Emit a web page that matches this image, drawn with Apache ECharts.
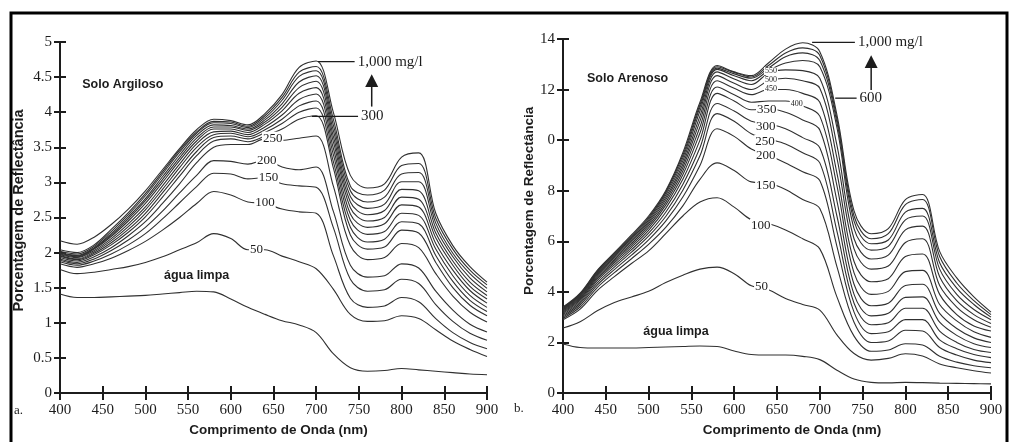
<!DOCTYPE html>
<html>
<head>
<meta charset="utf-8">
<script src="https://cdn.jsdelivr.net/npm/echarts@6/dist/echarts.min.js"></script>
<style>
  html, body { margin: 0; padding: 0; background: #ffffff; }
  #chart { width: 1017px; height: 442px; }
</style>
</head>
<body>
<div id="chart"></div>
<script>
// Wavelength samples (nm) shared by every spectrum
const wavelengths = [400, 420, 440, 460, 480, 500, 520, 540, 560, 580, 600, 620, 640, 660, 680, 700, 720, 740, 760, 780, 800, 820, 840, 860, 880, 900];

// Tick labels
const argilosoTickLabels = ['0', '0.5', '1', '1.5', '2', '2.5', '3', '3.5', '4', '4.5', '5'];
const arenosoTickLabels = ['0', '2', '4', '6', '8', '0', '12', '14'];
const waveTickLabels = ['400', '450', '500', '550', '600', '650', '700', '750', '800', '850', '900'];

// a. Solo Argiloso — reflectance (%) by sediment concentration (mg/l)
const argAgua = [1.41, 1.36, 1.36, 1.37, 1.38, 1.39, 1.41, 1.43, 1.45, 1.44, 1.34, 1.22, 1.12, 1.03, 0.97, 0.86, 0.56, 0.36, 0.31, 0.32, 0.35, 0.33, 0.31, 0.29, 0.27, 0.26];
const arg50 = [1.76, 1.70, 1.72, 1.76, 1.80, 1.86, 1.94, 2.04, 2.14, 2.27, 2.20, 2.04, 2.04, 1.95, 1.87, 1.77, 1.48, 1.12, 1.02, 1.03, 1.10, 1.06, 0.90, 0.74, 0.62, 0.52];
const arg100 = [1.84, 1.79, 1.84, 1.92, 2.03, 2.16, 2.32, 2.50, 2.70, 2.87, 2.82, 2.72, 2.70, 2.62, 2.58, 2.56, 1.96, 1.35, 1.22, 1.24, 1.36, 1.30, 1.06, 0.86, 0.72, 0.63];
const arg150 = [1.87, 1.82, 1.88, 1.98, 2.11, 2.27, 2.48, 2.71, 2.94, 3.13, 3.12, 3.05, 3.07, 2.98, 2.95, 2.93, 2.36, 1.62, 1.45, 1.47, 1.62, 1.56, 1.26, 1.02, 0.85, 0.75];
const arg200 = [1.89, 1.84, 1.91, 2.03, 2.18, 2.36, 2.59, 2.85, 3.10, 3.31, 3.30, 3.26, 3.32, 3.22, 3.18, 3.22, 2.59, 1.82, 1.65, 1.67, 1.84, 1.78, 1.45, 1.18, 0.98, 0.87];
const arg250 = [1.91, 1.86, 1.94, 2.07, 2.24, 2.44, 2.70, 2.98, 3.28, 3.50, 3.54, 3.54, 3.62, 3.60, 3.63, 3.66, 2.95, 2.10, 1.90, 1.93, 2.13, 2.07, 1.70, 1.38, 1.15, 1.01];
const arg300 = [1.93, 1.88, 1.97, 2.11, 2.29, 2.51, 2.79, 3.09, 3.38, 3.59, 3.62, 3.58, 3.66, 3.76, 3.90, 3.95, 3.21, 2.25, 2.05, 2.08, 2.32, 2.28, 1.86, 1.50, 1.25, 1.10];
const arg350 = [1.95, 1.90, 1.99, 2.14, 2.33, 2.56, 2.85, 3.15, 3.44, 3.64, 3.66, 3.62, 3.71, 3.84, 4.00, 4.06, 3.30, 2.36, 2.15, 2.19, 2.44, 2.41, 1.96, 1.59, 1.32, 1.16];
const arg400 = [1.96, 1.91, 2.01, 2.17, 2.37, 2.61, 2.90, 3.21, 3.50, 3.68, 3.70, 3.65, 3.75, 3.90, 4.09, 4.16, 3.40, 2.46, 2.26, 2.30, 2.56, 2.53, 2.05, 1.67, 1.39, 1.22];
const arg450 = [1.97, 1.93, 2.03, 2.20, 2.41, 2.65, 2.95, 3.26, 3.55, 3.72, 3.73, 3.68, 3.79, 3.96, 4.18, 4.26, 3.49, 2.55, 2.36, 2.41, 2.68, 2.65, 2.13, 1.75, 1.46, 1.28];
const arg500 = [1.98, 1.94, 2.05, 2.23, 2.45, 2.70, 3.00, 3.31, 3.59, 3.76, 3.76, 3.71, 3.83, 4.02, 4.27, 4.35, 3.58, 2.64, 2.45, 2.50, 2.79, 2.76, 2.21, 1.82, 1.52, 1.34];
const arg550 = [1.99, 1.95, 2.06, 2.25, 2.48, 2.74, 3.04, 3.35, 3.63, 3.79, 3.79, 3.74, 3.86, 4.07, 4.35, 4.44, 3.66, 2.72, 2.54, 2.60, 2.90, 2.88, 2.28, 1.88, 1.58, 1.39];
const arg600 = [2.00, 1.96, 2.07, 2.27, 2.51, 2.77, 3.08, 3.39, 3.67, 3.82, 3.81, 3.76, 3.89, 4.12, 4.43, 4.52, 3.74, 2.80, 2.63, 2.69, 3.01, 3.01, 2.35, 1.94, 1.64, 1.44];
const arg700 = [2.02, 1.98, 2.09, 2.30, 2.54, 2.81, 3.12, 3.43, 3.70, 3.85, 3.84, 3.78, 3.92, 4.17, 4.51, 4.59, 3.82, 2.88, 2.72, 2.79, 3.12, 3.14, 2.42, 1.99, 1.70, 1.49];
const arg800 = [2.04, 2.00, 2.11, 2.33, 2.57, 2.84, 3.15, 3.46, 3.72, 3.87, 3.86, 3.80, 3.95, 4.21, 4.57, 4.65, 3.90, 2.95, 2.82, 2.89, 3.24, 3.27, 2.49, 2.05, 1.75, 1.54];
const arg1000 = [2.17, 2.12, 2.22, 2.40, 2.62, 2.88, 3.18, 3.48, 3.75, 3.90, 3.88, 3.82, 3.98, 4.25, 4.64, 4.73, 4.00, 3.10, 2.92, 2.98, 3.36, 3.42, 2.56, 2.10, 1.80, 1.58];

// b. Solo Arenoso — reflectance (%) by sediment concentration (mg/l)
const areAgua = [1.94, 1.80, 1.78, 1.78, 1.78, 1.80, 1.82, 1.84, 1.86, 1.84, 1.66, 1.52, 1.50, 1.50, 1.45, 1.32, 0.90, 0.55, 0.42, 0.40, 0.42, 0.41, 0.39, 0.38, 0.37, 0.36];
const are50 = [2.57, 2.82, 3.25, 3.58, 3.80, 4.02, 4.37, 4.66, 4.90, 4.98, 4.72, 4.24, 4.08, 3.74, 3.50, 3.28, 2.30, 1.56, 1.30, 1.37, 1.55, 1.46, 1.15, 1.00, 0.88, 0.79];
const are100 = [2.90, 3.32, 4.05, 4.60, 5.12, 5.62, 6.30, 7.00, 7.55, 7.72, 7.35, 6.85, 6.70, 6.45, 6.10, 5.70, 3.80, 2.25, 1.65, 1.70, 1.95, 1.90, 1.45, 1.22, 1.08, 1.00];
const are150 = [2.95, 3.40, 4.17, 4.76, 5.31, 5.88, 6.55, 7.40, 8.45, 9.10, 8.80, 8.35, 8.30, 8.05, 7.65, 7.30, 5.00, 2.80, 2.00, 2.06, 2.48, 2.45, 1.80, 1.50, 1.30, 1.20];
const are200 = [3.00, 3.48, 4.27, 4.88, 5.45, 6.06, 6.80, 7.75, 9.00, 10.45, 10.15, 9.65, 9.40, 9.10, 8.75, 8.40, 5.80, 3.20, 2.35, 2.42, 2.90, 2.90, 2.10, 1.75, 1.52, 1.40];
const are250 = [3.05, 3.55, 4.36, 4.98, 5.57, 6.20, 6.98, 8.02, 9.38, 11.05, 10.75, 10.25, 10.05, 9.85, 9.50, 9.10, 6.40, 3.55, 2.70, 2.78, 3.35, 3.35, 2.45, 2.00, 1.72, 1.60];
const are300 = [3.10, 3.61, 4.44, 5.07, 5.67, 6.32, 7.15, 8.25, 9.70, 11.45, 11.15, 10.75, 10.65, 10.45, 10.10, 9.70, 7.00, 3.90, 3.05, 3.15, 3.78, 3.80, 2.80, 2.28, 1.95, 1.80];
const are350 = [3.15, 3.67, 4.51, 5.15, 5.76, 6.43, 7.30, 8.45, 10.00, 11.85, 11.55, 11.20, 11.25, 11.10, 10.80, 10.40, 7.60, 4.30, 3.45, 3.55, 4.25, 4.30, 3.15, 2.55, 2.18, 2.00];
const are400 = [3.19, 3.72, 4.57, 5.22, 5.84, 6.53, 7.43, 8.63, 10.28, 12.10, 11.80, 11.50, 11.55, 11.55, 11.35, 10.95, 8.20, 4.75, 3.90, 4.02, 4.80, 4.85, 3.50, 2.85, 2.42, 2.20];
const are450 = [3.23, 3.76, 4.62, 5.28, 5.91, 6.62, 7.54, 8.78, 10.52, 12.35, 12.05, 11.80, 12.00, 12.00, 11.85, 11.50, 8.70, 5.20, 4.40, 4.52, 5.40, 5.50, 3.90, 3.10, 2.65, 2.45];
const are500 = [3.27, 3.80, 4.67, 5.34, 5.98, 6.70, 7.64, 8.92, 10.75, 12.55, 12.25, 12.00, 12.35, 12.45, 12.35, 12.05, 9.30, 5.70, 4.90, 5.02, 5.95, 6.10, 4.25, 3.40, 2.90, 2.60];
const are550 = [3.30, 3.84, 4.71, 5.39, 6.04, 6.77, 7.73, 9.05, 10.95, 12.70, 12.42, 12.20, 12.65, 12.78, 12.75, 12.45, 9.80, 6.10, 5.30, 5.45, 6.45, 6.60, 4.60, 3.65, 3.10, 2.75];
const are600 = [3.33, 3.87, 4.75, 5.44, 6.10, 6.84, 7.82, 9.18, 11.15, 12.80, 12.55, 12.35, 12.75, 13.05, 13.15, 12.90, 10.50, 6.50, 5.65, 5.80, 6.85, 7.00, 4.90, 3.90, 3.30, 2.90];
const are700 = [3.36, 3.90, 4.79, 5.48, 6.15, 6.90, 7.90, 9.30, 11.30, 12.85, 12.62, 12.45, 12.85, 13.30, 13.45, 13.15, 10.70, 6.80, 5.90, 6.05, 7.15, 7.30, 5.15, 4.15, 3.50, 3.00];
const are800 = [3.38, 3.92, 4.82, 5.52, 6.20, 6.95, 7.95, 9.40, 11.40, 12.90, 12.68, 12.50, 12.95, 13.45, 13.65, 13.35, 10.85, 7.00, 6.10, 6.30, 7.45, 7.65, 5.40, 4.35, 3.65, 3.10];
const are1000 = [3.40, 3.95, 4.85, 5.55, 6.25, 7.00, 8.00, 9.50, 11.50, 12.95, 12.70, 12.55, 13.05, 13.60, 13.85, 13.50, 11.00, 7.20, 6.30, 6.50, 7.65, 7.85, 5.60, 4.55, 3.80, 3.20];

const argilosoCurves = [['água limpa', argAgua], ['50', arg50], ['100', arg100], ['150', arg150], ['200', arg200], ['250', arg250], ['300', arg300], ['350', arg350], ['400', arg400], ['450', arg450], ['500', arg500], ['550', arg550], ['600', arg600], ['700', arg700], ['800', arg800], ['1000', arg1000]];
const arenosoCurves = [['água limpa', areAgua], ['50', are50], ['100', are100], ['150', are150], ['200', are200], ['250', are250], ['300', are300], ['350', are350], ['400', are400], ['450', are450], ['500', are500], ['550', are550], ['600', are600], ['700', are700], ['800', are800], ['1000', are1000]];

const INK = '#1c1c1c';
const CURVE = '#303030';
const SERIF = 'Liberation Serif, Times New Roman, serif';
const SANS = 'Liberation Sans, Arial, sans-serif';

const chart = echarts.init(document.getElementById('chart'), null, { renderer: 'canvas' });

function curveSeries(name, values, axisIndex) {
  return {
    name: name,
    type: 'line',
    xAxisIndex: axisIndex,
    yAxisIndex: axisIndex,
    data: wavelengths.map((w, i) => [w, values[i]]),
    smooth: 0.35,
    showSymbol: false,
    symbol: 'none',
    silent: true,
    lineStyle: { color: CURVE, width: 1.1 },
    z: 2
  };
}

// Each grid gets a labelled axis (ticks outward) plus a twin (ticks inward) so ticks cross the axis line
function xAxes(gridIndex) {
  const base = { gridIndex: gridIndex, type: 'value', min: 400, max: 900, interval: 50, position: 'bottom', splitLine: { show: false } };
  return [
    Object.assign({}, base, {
      axisLine: { lineStyle: { color: INK, width: 2 } },
      axisTick: { length: 7, lineStyle: { color: INK, width: 2 } },
      axisLabel: { color: INK, fontFamily: SERIF, fontSize: 15, margin: 10,
        formatter: v => waveTickLabels[Math.round((v - 400) / 50)] },
      name: 'Comprimento de Onda (nm)', nameLocation: 'middle', nameGap: 30,
      nameTextStyle: { color: INK, fontFamily: SANS, fontWeight: 'bold', fontSize: 13.5, padding: gridIndex === 1 ? [0, 0, 0, 30] : [0, 0, 0, 10] }
    }),
    Object.assign({}, base, {
      axisLine: { show: false },
      axisTick: { inside: true, length: 7, lineStyle: { color: INK, width: 2 } },
      axisLabel: { show: false }
    })
  ];
}

function yAxes(gridIndex, max, interval, labels) {
  const base = { gridIndex: gridIndex, type: 'value', min: 0, max: max, interval: interval, position: 'left', splitLine: { show: false } };
  return [
    Object.assign({}, base, {
      axisLine: { show: true, lineStyle: { color: INK, width: 2 } },
      axisTick: { show: true, length: 6, lineStyle: { color: INK, width: 2 } },
      axisLabel: { color: INK, fontFamily: SERIF, fontSize: 15, margin: 8,
        formatter: v => labels[Math.round(v / interval)] }
    }),
    Object.assign({}, base, {
      axisLine: { show: false },
      axisTick: { show: true, inside: true, length: 6, lineStyle: { color: INK, width: 2 } },
      axisLabel: { show: false }
    })
  ];
}

const series = []
  .concat(argilosoCurves.map(c => curveSeries(c[0], c[1], 0)))
  .concat(arenosoCurves.map(c => curveSeries(c[0], c[1], 2)));

chart.setOption({
  animation: false,
  backgroundColor: '#ffffff',
  grid: [
    { left: 60, top: 42, width: 427, height: 353 },
    { left: 563, top: 39, width: 428, height: 354 }
  ],
  xAxis: xAxes(0).concat(xAxes(1)),
  yAxis: yAxes(0, 5, 0.5, argilosoTickLabels).concat(yAxes(1, 14, 2, arenosoTickLabels)),
  series: series
});

// Annotations anchored in data space (wavelength, reflectance)
const argilosoNotes = [
  { text: '50', at: [630, 2.05], size: 13 },
  { text: '100', at: [640, 2.71], size: 13 },
  { text: '150', at: [644, 3.07], size: 13 },
  { text: '200', at: [642, 3.31], size: 13 },
  { text: '250', at: [649, 3.63], size: 13 }
];
const arenosoNotes = [
  { text: '550', at: [643, 12.73], size: 8 },
  { text: '500', at: [643, 12.37], size: 8 },
  { text: '450', at: [643, 12.02], size: 8 },
  { text: '400', at: [673, 11.42], size: 8 },
  { text: '350', at: [638, 11.2], size: 13 },
  { text: '300', at: [637, 10.55], size: 13 },
  { text: '250', at: [636, 9.96], size: 13 },
  { text: '200', at: [637, 9.37], size: 13 },
  { text: '150', at: [637, 8.22], size: 13 },
  { text: '100', at: [631, 6.64], size: 13 },
  { text: '50', at: [632, 4.19], size: 13 }
];

function px(axisIndex, point) {
  return chart.convertToPixel({ xAxisIndex: axisIndex, yAxisIndex: axisIndex }, point);
}

function noteText(axisIndex, note) {
  const p = px(axisIndex, note.at);
  return {
    type: 'text', x: p[0], y: p[1], z: 50, silent: true,
    style: { text: note.text, fill: INK, font: note.size + 'px ' + SERIF, align: 'center', verticalAlign: 'middle',
      backgroundColor: '#ffffff', padding: [0, 1] }
  };
}

function boldText(axisIndex, text, at, align) {
  const p = px(axisIndex, at);
  return {
    type: 'text', x: p[0], y: p[1], z: 50, silent: true,
    style: { text: text, fill: INK, font: 'bold 12.5px ' + SANS, align: align, verticalAlign: 'middle' }
  };
}

// Vertical axis title, centred on a reflectance value beside the axis
function yTitle(axisIndex, value, gap, size) {
  const p = px(axisIndex, [400, value]);
  return {
    type: 'text', x: p[0] - gap, y: p[1], rotation: Math.PI / 2, z: 50, silent: true,
    style: { text: 'Porcentagem de Reflectância', fill: INK, font: 'bold ' + size + 'px ' + SANS, align: 'center', verticalAlign: 'middle' }
  };
}

// Leader line from a curve to a label, plus the label itself
function leader(axisIndex, text, from, to) {
  const a = px(axisIndex, from);
  const b = px(axisIndex, to);
  return [
    { type: 'line', z: 50, silent: true, shape: { x1: a[0], y1: a[1], x2: b[0], y2: b[1] }, style: { stroke: INK, lineWidth: 1.3 } },
    { type: 'text', x: b[0] + 3, y: b[1], z: 50, silent: true,
      style: { text: text, fill: INK, font: '15px ' + SERIF, align: 'left', verticalAlign: 'middle' } }
  ];
}

// Upward arrow between the two leader labels
function arrow(axisIndex, wave, from, to, head) {
  const a = px(axisIndex, [wave, from]);
  const b = px(axisIndex, [wave, to]);
  const h = px(axisIndex, [wave, head]);
  return [
    { type: 'line', z: 50, silent: true, shape: { x1: a[0], y1: a[1], x2: b[0], y2: b[1] }, style: { stroke: INK, lineWidth: 1.5 } },
    { type: 'polygon', z: 50, silent: true, shape: { points: [[h[0], h[1]], [b[0] - 6.5, b[1]], [b[0] + 6.5, b[1]]] }, style: { fill: INK } }
  ];
}

const graphics = []
  .concat(argilosoNotes.map(n => noteText(0, n)))
  .concat(arenosoNotes.map(n => noteText(2, n)))
  .concat([
    boldText(0, 'Solo Argiloso', [426, 4.4], 'left'),
    boldText(0, 'água limpa', [560, 1.68], 'center'),
    boldText(2, 'Solo Arenoso', [428, 12.45], 'left'),
    boldText(2, 'água limpa', [532, 2.45], 'center'),
    yTitle(0, 2.6, 41, 14.5),
    yTitle(2, 7.6, 34, 13.5)
  ])
  .concat(leader(0, '1,000 mg/l', [702, 4.72], [745, 4.72]))
  .concat(leader(0, '300', [695, 3.94], [749, 3.94]))
  .concat(arrow(0, 765, 4.08, 4.36, 4.54))
  .concat(leader(2, '1,000 mg/l', [691, 13.87], [741, 13.87]))
  .concat(leader(2, '600', [718, 11.66], [743, 11.66]))
  .concat(arrow(2, 760, 11.98, 12.85, 13.36))
  .concat([
    { type: 'text', x: 14, y: 411, z: 50, silent: true, style: { text: 'a.', fill: INK, font: '13px ' + SERIF, verticalAlign: 'middle' } },
    { type: 'text', x: 514, y: 409, z: 50, silent: true, style: { text: 'b.', fill: INK, font: '13px ' + SERIF, verticalAlign: 'middle' } },
    { type: 'rect', z: 60, silent: true, shape: { x: 11, y: 13, width: 996, height: 440 }, style: { fill: 'none', stroke: '#000000', lineWidth: 3 } }
  ]);

chart.setOption({ graphic: graphics });
</script>
</body>
</html>
